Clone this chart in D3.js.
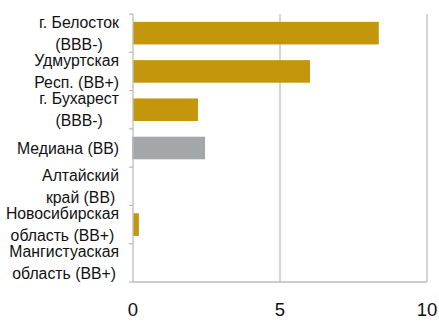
<!DOCTYPE html>
<html>
<head>
<meta charset="utf-8">
<script src="https://cdn.jsdelivr.net/npm/d3@7"></script>
<style>
  body { margin: 0; background: #fff; }
  text { font-family: "Liberation Sans", Arial, sans-serif; fill: #111; }
</style>
</head>
<body>
<div id="vis"></div>
<script>
// categories (two-line labels), values, colour per bar
let labels = [
  ['г. Белосток', '(BBB-)'],
  ['Удмуртская', 'Респ. (BB+)'],
  ['г. Бухарест', '(BBB-)'],
  ['Медиана (BB)'],
  ['Алтайский', 'край (BB)'],
  ['Новосибирская', 'область (BB+)'],
  ['Мангистуаская', 'область (BB+)']
]
let values = [8.36, 6.02, 2.21, 2.45, 0, 0.2, 0]
let isMedian = [false, false, false, true, false, false, false]
let xTicks = [0, 5, 10]

let width = 439, height = 323
let margin = {top: 14, right: 12, bottom: 41, left: 133}

let svg = d3.select('#vis').append('svg')
  .attr('width', width)
  .attr('height', height)

let x = d3.scaleLinear().domain([0, 10]).range([margin.left, 427])
let y = d3.scaleBand()
  .domain(d3.range(labels.length))
  .range([margin.top, height - margin.bottom])
  .paddingInner(0.41)
  .paddingOuter(0.205)

let gridColor = '#bdbdbd'

// vertical grid lines at 5 and 10
svg.selectAll('.grid')
  .data(xTicks.slice(1))
  .join('line')
  .attr('x1', d => x(d)).attr('x2', d => x(d))
  .attr('y1', margin.top).attr('y2', height - margin.bottom)
  .attr('stroke', gridColor)
  .attr('stroke-width', 1.3)

// bottom line
svg.append('line')
  .attr('x1', x(0)).attr('x2', x(10))
  .attr('y1', height - margin.bottom).attr('y2', height - margin.bottom)
  .attr('stroke', gridColor)
  .attr('stroke-width', 1.3)

// bars
svg.selectAll('.bar')
  .data(values)
  .join('rect')
  .attr('x', (d, i) => isMedian[i] ? x(0) - 1 : x(0))
  .attr('y', (d, i) => y(i))
  .attr('width', (d, i) => x(d) - x(0) + (isMedian[i] ? 1 : 0))
  .attr('height', y.bandwidth())
  .attr('fill', (d, i) => isMedian[i] ? '#a4a7a9' : '#c4960c')

// left axis with ticks at band edges
let step = y.step()
let edges = d3.range(labels.length + 1).map(i => margin.top + i * step)
svg.append('line')
  .attr('x1', x(0)).attr('x2', x(0))
  .attr('y1', margin.top).attr('y2', height - margin.bottom)
  .attr('stroke', gridColor)
  .attr('stroke-width', 1.3)
svg.selectAll('.ytick')
  .data(edges)
  .join('line')
  .attr('x1', x(0) - 4).attr('x2', x(0))
  .attr('y1', d => d).attr('y2', d => d)
  .attr('stroke', gridColor)
  .attr('stroke-width', 1.3)

// category labels: each block centred on its widest line, right edge at 119
let lineGap = 22
let labelRight = 119
svg.selectAll('.lab')
  .data(labels)
  .join('text')
  .attr('text-anchor', 'middle')
  .style('font-size', '15.8px')
  .each(function(d, i) {
    let cy = y(i) + y.bandwidth() / 2
    let start = cy - (d.length - 1) * lineGap / 2
    let spans = d3.select(this).selectAll('tspan')
      .data(d)
      .join('tspan')
      .attr('y', (t, j) => start + j * lineGap)
      .attr('dy', '0.35em')
      .text(t => t)
    let maxW = d3.max(spans.nodes(), n => n.getComputedTextLength())
    spans.attr('x', labelRight - maxW / 2)
  })

// x tick labels
svg.selectAll('.xlab')
  .data(xTicks)
  .join('text')
  .attr('x', d => x(d))
  .attr('y', 310)
  .attr('dy', '0.35em')
  .attr('text-anchor', 'middle')
  .style('font-size', '18.5px')
  .text(d => d)
</script>
</body>
</html>
